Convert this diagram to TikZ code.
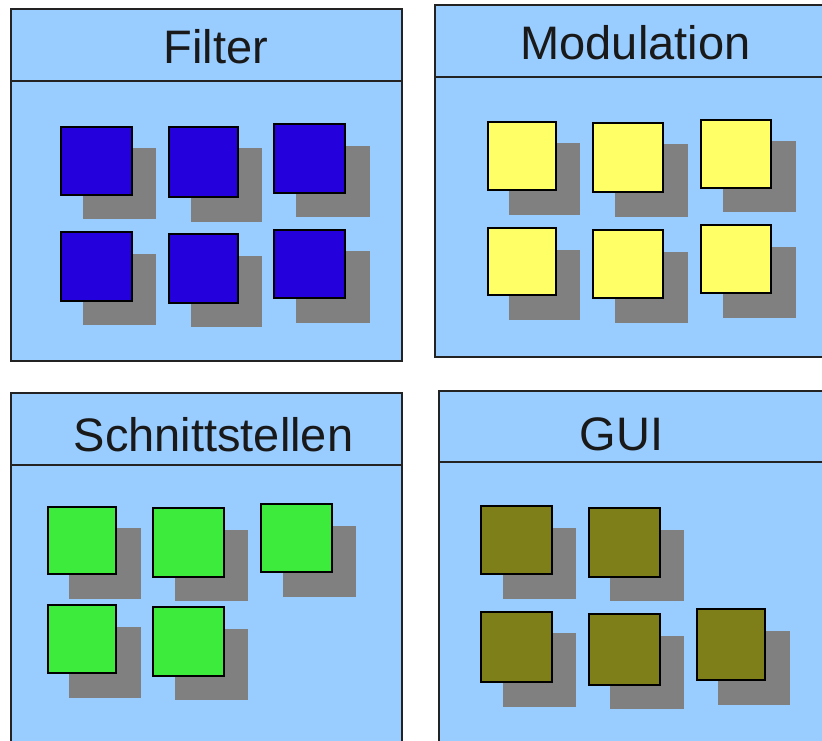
\documentclass[tikz,border=0pt]{standalone}
\usepackage{fontspec}
\setmainfont{Liberation Sans}
\definecolor{panelblue}{RGB}{153,204,255}
\definecolor{shadowgray}{RGB}{128,128,128}
\definecolor{fblue}{RGB}{35,0,220}
\definecolor{myellow}{RGB}{255,255,102}
\definecolor{sgreen}{RGB}{61,235,61}
\definecolor{golive}{RGB}{127,127,25}
\definecolor{linegray}{RGB}{35,35,35}
\definecolor{txt}{RGB}{25,25,25}
\newcommand\blk[6]{%
  \fill[shadowgray] (#2+22.5,#3+22.5) rectangle (#4+23.5,#5+23.5);
  \node[blkbox, fill=#6, minimum width={#4-#2-2}, minimum height={#5-#3-2}] (#1) at ({(#2+#4)/2},{(#3+#5)/2}) {};}
\newcommand\panelbox[6]{%
  \node[panel, anchor=north west, minimum width={#4-#2}, minimum height={#5-#3}] (#1) at (#2,#3) {};
  \coordinate (#1h) at (0,#6);
  \draw[frame] (#1.west |- #1h) -- (#1.east |- #1h);}
\begin{document}
\begin{tikzpicture}[x=1pt,y=-1pt,
  panel/.style={draw=linegray, line width=1.8pt, fill=panelblue, inner sep=0pt, outer sep=0pt},
  frame/.style={draw=linegray, line width=1.8pt},
  blkbox/.style={draw=black, line width=2pt, inner sep=0pt, outer sep=0pt, rectangle},
  title/.style={anchor=base, text=txt, font=\fontsize{47}{50}\selectfont, inner sep=0pt}]
\useasboundingbox (0,0) rectangle (822,741);
\clip (0,0) rectangle (822,741);
\fill[white] (0,0) rectangle (822,741);
% panels
\panelbox{P1}{10.7}{9.3}{402}{361}{80.7}
\panelbox{P2}{434.7}{4.7}{845}{357.3}{76.7}
\panelbox{P3}{10.7}{393.3}{402.3}{765}{465.3}
\panelbox{P4}{439.3}{390.7}{845}{765}{461.7}
% titles
\node[title] (t1) at (216,63.3) {Filter};
\node[title] (t2) at (635.5,60) {Modulation};
\node[title] (t3) at (213.5,451.7) {Schnittstellen};
\node[title] (t4) at (621.7,450) {GUI};
% Filter
\blk{f1}{60}{125.7}{132.7}{195.7}{fblue}
\blk{f2}{168}{125.7}{238.7}{198}{fblue}
\blk{f3}{273.3}{123.3}{346}{193.7}{fblue}
\blk{f4}{60}{231}{132.7}{301.7}{fblue}
\blk{f5}{168}{233.3}{238.7}{303.7}{fblue}
\blk{f6}{273.3}{228.7}{346}{299}{fblue}
% Modulation
\blk{m1}{486.7}{121}{556.7}{191.3}{myellow}
\blk{m2}{592.3}{121.7}{664.3}{193.3}{myellow}
\blk{m3}{700}{119}{772.3}{188.7}{myellow}
\blk{m4}{486.7}{227}{556.7}{296.3}{myellow}
\blk{m5}{592.3}{229}{664.3}{299}{myellow}
\blk{m6}{700}{224.3}{772.3}{294.3}{myellow}
% Schnittstellen
\blk{s1}{46.7}{505.7}{117}{575.3}{sgreen}
\blk{s2}{152.3}{507.3}{224.7}{577.7}{sgreen}
\blk{s3}{260}{503.3}{332.7}{573.3}{sgreen}
\blk{s4}{46.7}{604}{117}{674.3}{sgreen}
\blk{s5}{152.3}{606.3}{224.7}{676.7}{sgreen}
% GUI
\blk{g1}{480}{505.3}{552.7}{575.3}{golive}
\blk{g2}{587.7}{507}{660.7}{577.7}{golive}
\blk{g3}{480}{610.7}{552.7}{683.3}{golive}
\blk{g4}{587.7}{613}{660.7}{685.7}{golive}
\blk{g5}{695.7}{608.3}{766}{681}{golive}
\end{tikzpicture}
\end{document}
